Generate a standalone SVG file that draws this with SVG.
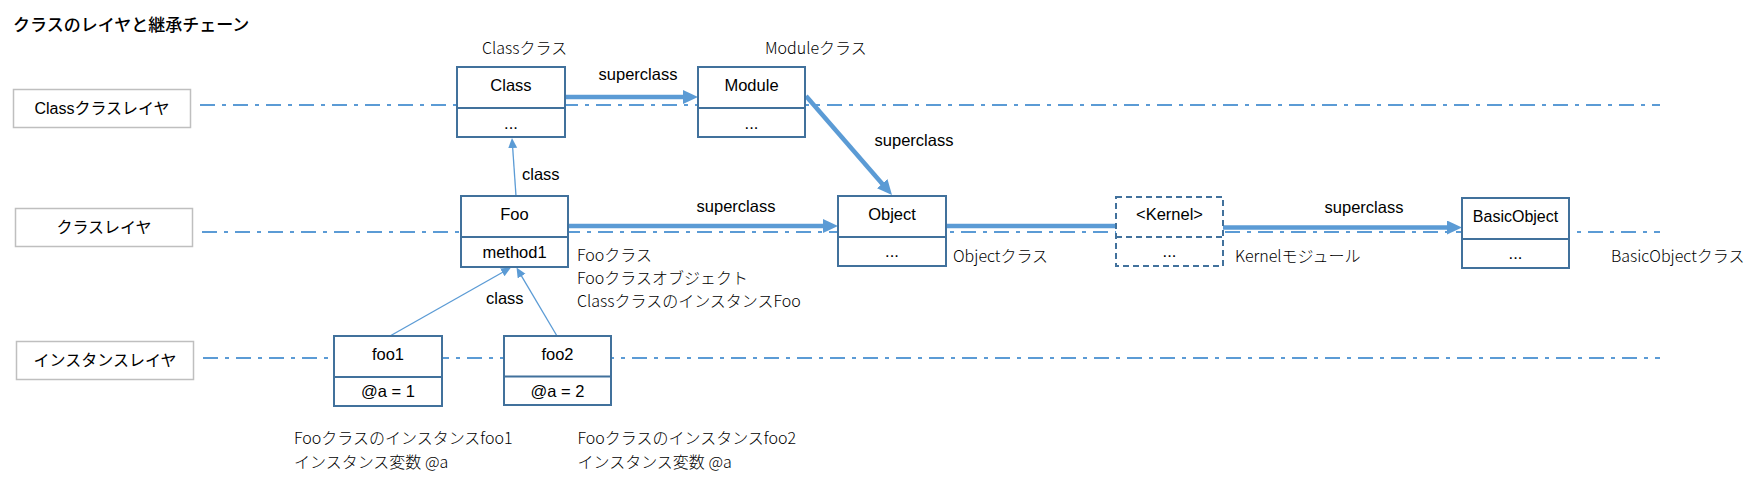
<svg xmlns="http://www.w3.org/2000/svg" width="1758" height="480" viewBox="0 0 1758 480">
<style>
.layerline{stroke:#5b9bd5;stroke-width:2;stroke-dasharray:15 7 4 7;fill:none}
.layerbox{fill:#fff;stroke:#bfbfbf;stroke-width:1.5}
.box{fill:#fff;stroke:#41719c;stroke-width:2}
.dbox{fill:#fff;stroke:#41719c;stroke-width:2;stroke-dasharray:6 4}
.sup{stroke:#5b9bd5;stroke-width:4.5;fill:none}
.cls{stroke:#5b9bd5;stroke-width:1.3;fill:none}
.t{font-family:"Liberation Sans","Noto Sans CJK JP",sans-serif;font-size:16.5px;fill:#000;text-anchor:middle}
.lbl{font-family:"Liberation Sans","Noto Sans CJK JP",sans-serif;font-size:16.5px;fill:#000}
.note{font-family:"Noto Sans CJK JP",sans-serif;font-size:16px;font-weight:300;fill:#000}
.layer{font-family:"Liberation Sans","Noto Sans CJK JP",sans-serif;font-size:16px;fill:#000;text-anchor:middle}
.title{font-family:"Noto Sans CJK JP",sans-serif;font-size:17px;font-weight:500;fill:#000}
</style>
<defs>
<marker id="ah" markerUnits="userSpaceOnUse" markerWidth="16" markerHeight="14" refX="7" refY="7" orient="auto"><path d="M0,0 L15,7 L0,14 z" fill="#5b9bd5"/></marker>
<marker id="as" markerUnits="userSpaceOnUse" markerWidth="11" markerHeight="10" refX="5" refY="4.5" orient="auto"><path d="M0,0 L10,4.5 L0,9 z" fill="#5b9bd5"/></marker>
</defs>
<rect width="1758" height="480" fill="#fff"/>
<text class="title" x="13" y="31">クラスのレイヤと継承チェーン</text>
<g id="layers">
<line class="layerline" x1="200" y1="105" x2="1660" y2="105"/>
<line class="layerline" x1="202" y1="232" x2="1660" y2="232"/>
<line class="layerline" x1="203" y1="358" x2="1660" y2="358"/>
</g>
<g id="layer-class">
<rect class="layerbox" x="13.5" y="89.5" width="177" height="38"/>
<text class="layer" x="102" y="114">Classクラスレイヤ</text>
</g>
<g id="layer-classes">
<rect class="layerbox" x="15.5" y="208.5" width="177" height="38"/>
<text class="layer" x="104" y="233">クラスレイヤ</text>
</g>
<g id="layer-instance">
<rect class="layerbox" x="16.5" y="341.5" width="177" height="38"/>
<text class="layer" x="105" y="366">インスタンスレイヤ</text>
</g>
<g id="connectors">
<line class="sup" x1="565" y1="97" x2="690" y2="97" marker-end="url(#ah)"/>
<line class="sup" x1="806" y1="96" x2="886.75" y2="188.96" marker-end="url(#ah)"/>
<line class="sup" x1="568" y1="226" x2="830" y2="226" marker-end="url(#ah)"/>
<line class="sup" x1="946" y1="226" x2="1116" y2="226"/>
<line class="sup" x1="1223" y1="227.5" x2="1454" y2="227.5" marker-end="url(#ah)"/>
<line class="cls" x1="516" y1="196" x2="512.34" y2="143" marker-end="url(#as)"/>
<line class="cls" x1="390" y1="336" x2="506.65" y2="269.96" marker-end="url(#as)"/>
<line class="cls" x1="557" y1="336" x2="519.05" y2="271.8" marker-end="url(#as)"/>
<text class="lbl" x="638" y="80" text-anchor="middle">superclass</text>
<text class="lbl" x="914" y="146" text-anchor="middle">superclass</text>
<text class="lbl" x="736" y="212" text-anchor="middle">superclass</text>
<text class="lbl" x="1364" y="213" text-anchor="middle">superclass</text>
<text class="lbl" x="522" y="180">class</text>
<text class="lbl" x="486" y="304">class</text>
</g>
<g id="node-class">
<rect class="box" x="457" y="67" width="108" height="70"/>
<line class="box" x1="457" y1="108" x2="565" y2="108"/>
<text class="t" x="511" y="91">Class</text>
<text class="t" x="511" y="129">...</text>
<text class="note" x="482" y="54">Classクラス</text>
</g>
<g id="node-module">
<rect class="box" x="698" y="67" width="107" height="70"/>
<line class="box" x1="698" y1="108" x2="805" y2="108"/>
<text class="t" x="751.5" y="91">Module</text>
<text class="t" x="751.5" y="129">...</text>
<text class="note" x="765" y="54">Moduleクラス</text>
</g>
<g id="node-foo">
<rect class="box" x="461" y="196" width="107" height="71"/>
<line class="box" x1="461" y1="237" x2="568" y2="237"/>
<text class="t" x="514.5" y="220">Foo</text>
<text class="t" x="514.5" y="258">method1</text>
<text class="note" x="577" y="261">Fooクラス</text>
<text class="note" x="577" y="284">Fooクラスオブジェクト</text>
<text class="note" x="577" y="307">ClassクラスのインスタンスFoo</text>
</g>
<g id="node-object">
<rect class="box" x="838" y="196" width="108" height="70"/>
<line class="box" x1="838" y1="237" x2="946" y2="237"/>
<text class="t" x="892" y="220">Object</text>
<text class="t" x="892" y="257">...</text>
<text class="note" x="953" y="262">Objectクラス</text>
</g>
<g id="node-kernel">
<rect class="dbox" x="1116" y="197" width="107" height="69"/>
<line class="dbox" x1="1116" y1="237" x2="1223" y2="237"/>
<text class="t" x="1169.5" y="220">&lt;Kernel&gt;</text>
<text class="t" x="1169.5" y="257">...</text>
<text class="note" x="1235" y="262">Kernelモジュール</text>
</g>
<g id="node-basicobject">
<rect class="box" x="1462" y="198" width="107" height="70"/>
<line class="box" x1="1462" y1="239" x2="1569" y2="239"/>
<text class="t" x="1515.5" y="222" style="font-size:16px">BasicObject</text>
<text class="t" x="1515.5" y="259">...</text>
<text class="note" x="1611" y="262">BasicObjectクラス</text>
</g>
<g id="node-foo1">
<rect class="box" x="334" y="336" width="108" height="70"/>
<line class="box" x1="334" y1="377" x2="442" y2="377"/>
<text class="t" x="388" y="360">foo1</text>
<text class="t" x="388" y="397">@a = 1</text>
<text class="note" x="294" y="444">Fooクラスのインスタンスfoo1</text>
<text class="note" x="294" y="468">インスタンス変数 @a</text>
</g>
<g id="node-foo2">
<rect class="box" x="504" y="336" width="107" height="69"/>
<line class="box" x1="504" y1="376.5" x2="611" y2="376.5"/>
<text class="t" x="557.5" y="360">foo2</text>
<text class="t" x="557.5" y="397">@a = 2</text>
<text class="note" x="577.5" y="444">Fooクラスのインスタンスfoo2</text>
<text class="note" x="577.5" y="468">インスタンス変数 @a</text>
</g>
</svg>
